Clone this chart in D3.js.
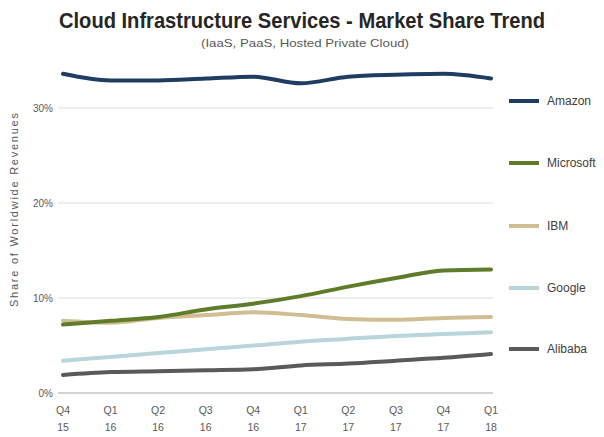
<!DOCTYPE html>
<html lang="en">
<head>
    <meta charset="UTF-8">
    <title>Cloud Infrastructure Services - Market Share Trend</title>
    <script src="https://cdn.jsdelivr.net/npm/d3@7/dist/d3.min.js"></script>
    <style>
        body { margin: 0; background: #fff; }
        text { font-family: "Liberation Sans", Arial, sans-serif; }
    </style>
</head>
<body>
<script>
    // quarters on the x axis
    var quarters = ["Q4 15", "Q1 16", "Q2 16", "Q3 16", "Q4 16", "Q1 17", "Q2 17", "Q3 17", "Q4 17", "Q1 18"];
    var yTicks = [0, 10, 20, 30];

    // market share (%) per company
    var amazon    = [33.6, 32.9, 32.9, 33.1, 33.3, 32.6, 33.3, 33.5, 33.6, 33.1];
    var microsoft = [7.2, 7.6, 8.0, 8.8, 9.4, 10.2, 11.2, 12.1, 12.9, 13.0];
    var ibm       = [7.6, 7.4, 7.9, 8.2, 8.5, 8.2, 7.8, 7.7, 7.9, 8.0];
    var google    = [3.4, 3.8, 4.2, 4.6, 5.0, 5.4, 5.7, 6.0, 6.2, 6.4];
    var alibaba   = [1.9, 2.2, 2.3, 2.4, 2.5, 2.9, 3.1, 3.4, 3.7, 4.1];

    var series = [
        {name: "Amazon", values: amazon, color: "#1f3d60"},
        {name: "Microsoft", values: microsoft, color: "#5e7c2a"},
        {name: "IBM", values: ibm, color: "#d0bd92"},
        {name: "Google", values: google, color: "#b7d5da"},
        {name: "Alibaba", values: alibaba, color: "#5a5a5a"}
    ];

    var width = 604;
    var height = 437;
    var svg = d3.select("body").append("svg")
        .attr("width", width)
        .attr("height", height);

    // plot box (not "top": that name is taken by window.top)
    var plotL = 58, plotR = 493, plotT = 108, plotB = 393;

    var x = d3.scalePoint().domain(quarters).range([63, 491]);
    var y = d3.scaleLinear().domain([0, 30]).range([plotB, plotT]);

    // titles
    svg.append("text")
        .attr("x", 302).attr("y", 28)
        .attr("text-anchor", "middle")
        .attr("textLength", 486)
        .attr("lengthAdjust", "spacingAndGlyphs")
        .style("font-weight", "bold")
        .style("font-size", "22px")
        .style("fill", "#262626")
        .text("Cloud Infrastructure Services - Market Share Trend");

    svg.append("text")
        .attr("x", 305).attr("y", 47)
        .attr("text-anchor", "middle")
        .attr("textLength", 208)
        .attr("lengthAdjust", "spacingAndGlyphs")
        .style("font-size", "11px")
        .style("fill", "#595959")
        .text("(IaaS, PaaS, Hosted Private Cloud)");

    // grid lines
    svg.selectAll(".grid")
        .data(yTicks)
        .enter().append("line")
        .attr("x1", plotL).attr("x2", plotR)
        .attr("y1", function (d) { return y(d); })
        .attr("y2", function (d) { return y(d); })
        .attr("stroke", function (d) { return d === 0 ? "#a6a6a6" : "#dedede"; })
        .attr("stroke-width", 1);

    // y labels
    svg.selectAll(".ylab")
        .data(yTicks)
        .enter().append("text")
        .attr("x", 53)
        .attr("y", function (d) { return y(d) + 4; })
        .attr("text-anchor", "end")
        .style("font-size", "10px")
        .style("fill", "#595959")
        .text(function (d) { return d + "%"; });

    // x labels, two lines each
    var xl = svg.selectAll(".xlab")
        .data(quarters)
        .enter().append("text")
        .attr("text-anchor", "middle")
        .style("font-size", "10.5px")
        .style("fill", "#595959");
    xl.append("tspan")
        .attr("x", function (d) { return x(d); })
        .attr("y", 414)
        .text(function (d) { return d.split(" ")[0]; });
    xl.append("tspan")
        .attr("x", function (d) { return x(d); })
        .attr("y", 431)
        .text(function (d) { return d.split(" ")[1]; });

    // axis title
    svg.append("text")
        .attr("transform", "translate(18,210) rotate(-90)")
        .attr("text-anchor", "middle")
        .attr("textLength", 194)
        .attr("lengthAdjust", "spacing")
        .style("font-size", "11px")
        .style("fill", "#595959")
        .text("Share of Worldwide Revenues");

    var line = d3.line()
        .x(function (d, i) { return x(quarters[i]); })
        .y(function (d) { return y(d); })
        .curve(d3.curveMonotoneX);

    // draw back to front so Amazon/Microsoft sit on top
    series.slice().reverse().forEach(function (s) {
        svg.append("path")
            .attr("d", line(s.values))
            .attr("fill", "none")
            .attr("stroke", s.color)
            .attr("stroke-width", 4)
            .attr("stroke-linecap", "round");
    });

    // legend
    var legendY = [101, 163, 226, 288, 349];
    series.forEach(function (s, i) {
        svg.append("line")
            .attr("x1", 509).attr("x2", 539)
            .attr("y1", legendY[i]).attr("y2", legendY[i])
            .attr("stroke", s.color)
            .attr("stroke-width", 4);
        svg.append("text")
            .attr("x", 547).attr("y", legendY[i] + 4)
            .style("font-size", "12px")
            .style("fill", "#404040")
            .text(s.name);
    });
</script>
</body>
</html>
